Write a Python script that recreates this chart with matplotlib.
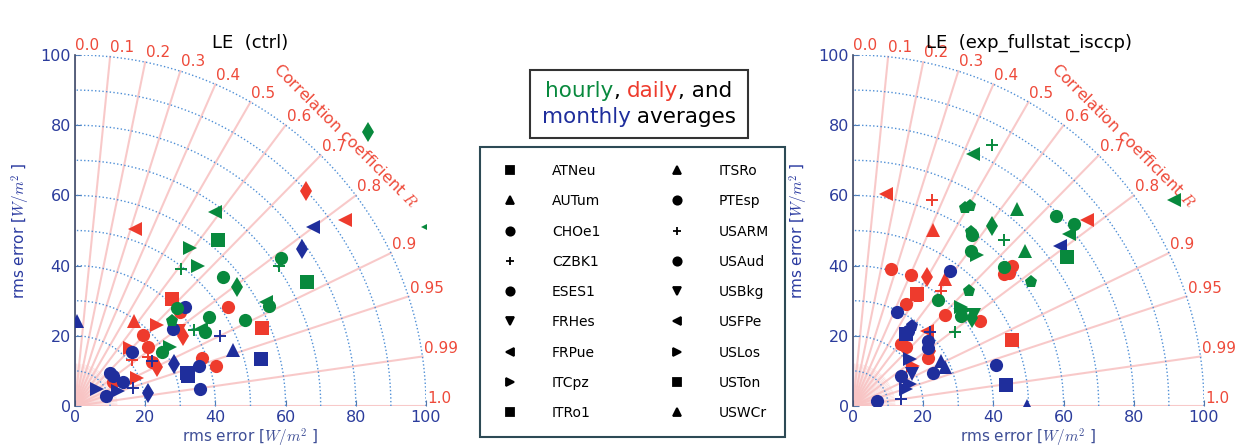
import numpy as np
import matplotlib.pyplot as plt
from matplotlib.lines import Line2D
from matplotlib.offsetbox import TextArea, HPacker, VPacker, AnchoredOffsetbox

plt.rcParams['mathtext.fontset'] = 'cm'

GREEN = '#08893d'
RED = '#ee3b2d'
BLUE = '#1f2e9c'
PINK = '#f8c4c4'
ARC = '#4f8fd6'
LABEL_RED = '#ee4a3a'
TICK_BLUE = '#2b3c9c'

# station legend
stations = ['ATNeu', 'AUTum', 'CHOe1', 'CZBK1', 'ESES1', 'FRHes', 'FRPue', 'ITCpz', 'ITRo1',
            'ITSRo', 'PTEsp', 'USARM', 'USAud', 'USBkg', 'USFPe', 'USLos', 'USTon', 'USWCr']
station_markers = ['s', '^', 'o', '+', 'o', 'v', '<', '>', 's',
                   '^', 'o', '+', 'o', 'v', '<', '>', 's', '^']

# Taylor diagram grid
corr_ticks = [0.0, 0.1, 0.2, 0.3, 0.4, 0.5, 0.6, 0.7, 0.8, 0.9, 0.95, 0.99, 1.0]
corr_labels = ['0.0', '0.1', '0.2', '0.3', '0.4', '0.5', '0.6', '0.7', '0.8', '0.9', '0.95', '0.99', '1.0']
std_rings = [10, 20, 30, 40, 50, 60, 70, 80, 90, 100]
axis_ticks = [0, 20, 40, 60, 80, 100]

# ---- LE (ctrl) ----
ctrl_hourly_x = [83.6, 100.6, 39.9, 40.6, 32.8, 30.2, 35.1, 58.6, 58.0, 66.2, 42.1, 46.1, 55.4, 54.3,
                 38.3, 48.4, 29.0, 27.5, 34.0, 36.0, 37.0, 24.7, 27.1]
ctrl_hourly_y = [78.1, 51.0, 55.2, 47.3, 45.0, 39.0, 40.0, 42.1, 40.0, 35.2, 36.7, 34.0, 28.6, 29.6,
                 25.4, 24.5, 27.8, 24.3, 21.7, 22.0, 21.0, 15.5, 16.9]
ctrl_hourly_m = ['d', '<', '<', 's', '>', '+', '>', 'o', '+', 's', 'o', 'd', 'o', '<',
                 'o', 'o', 'o', 'p', '+', '<', 'o', 'o', '>']

ctrl_daily_x = [65.8, 76.9, 17.1, 16.9, 23.3, 19.5, 27.5, 29.9, 43.7, 53.2, 36.1, 40.2, 30.8, 29.5,
                20.9, 21.8, 23.3, 17.6, 15.7, 10.9, 16.1, 20.9]
ctrl_daily_y = [61.2, 53.0, 50.5, 24.1, 23.1, 20.3, 30.5, 26.7, 28.3, 22.1, 13.8, 11.4, 20.0, 21.5,
                16.7, 12.4, 11.0, 7.9, 16.4, 6.9, 13.1, 14.0]
ctrl_daily_m = ['d', '<', '<', '^', '>', 'o', 's', 'o', 'o', 's', 'o', 'o', 'd', 'v',
                'o', 'o', 'd', '>', '>', 'o', '+', '+']

ctrl_monthly_x = [0.5, 67.9, 64.6, 45.1, 53.0, 41.3, 31.3, 27.8, 16.1, 28.2, 35.4, 32.3, 32.0, 35.6,
                  20.9, 10.0, 10.9, 13.8, 6.2, 8.8, 12.3, 16.6, 21.8]
ctrl_monthly_y = [24.3, 51.0, 44.8, 15.9, 13.3, 20.0, 28.3, 21.9, 15.5, 11.9, 11.4, 8.6, 9.5, 4.8,
                  3.8, 9.5, 8.6, 6.7, 4.8, 2.9, 4.3, 5.0, 12.9]
ctrl_monthly_m = ['^', '<', 'd', '^', 's', '+', 'o', 'o', 'o', 'd', 'o', 's', 's', 'o',
                  'd', 'o', 'o', 'o', '>', 'o', '>', '+', '+']

# ---- LE (exp_fullstat_isccp) ----
exp_hourly_x = [91.4, 34.3, 39.5, 46.7, 31.9, 33.3, 39.5, 33.6, 33.8, 43.1, 49.0, 33.6, 35.2, 57.9,
                62.9, 61.4, 61.0, 42.9, 50.8, 24.1, 33.0, 30.8, 31.9, 30.8, 33.8, 29.2, 34.5]
exp_hourly_y = [58.6, 71.9, 74.3, 56.2, 56.5, 57.1, 51.4, 49.5, 48.6, 47.3, 44.3, 44.3, 43.1, 54.0,
                51.9, 49.0, 42.4, 39.7, 35.2, 30.2, 32.7, 28.3, 27.3, 25.7, 25.0, 21.0, 26.0]
exp_hourly_m = ['<', '<', '+', '^', 'p', 'p', 'd', 'p', 'o', '+', '^', 'o', '>', 'o',
                'o', '<', 's', 'o', 'p', 'o', 'p', '>', '>', 'o', 'd', '+', 'v']

exp_daily_x = [9.5, 22.4, 22.9, 66.7, 10.8, 16.5, 21.0, 26.2, 43.8, 45.2, 42.9, 18.1, 18.6, 15.2,
               25.2, 26.2, 36.2, 45.2, 13.8, 15.2, 21.0, 21.4, 21.9, 17.1, 44.5]
exp_daily_y = [60.3, 58.8, 50.2, 53.0, 38.9, 37.3, 36.7, 36.2, 39.0, 40.0, 37.6, 31.9, 31.0, 29.0,
               32.9, 25.9, 24.3, 18.8, 17.6, 16.7, 21.4, 13.8, 15.7, 11.4, 38.0]
exp_daily_m = ['<', '+', '^', '<', 'o', 'o', 'd', '^', 'o', 'o', 'o', 's', 'p', 'o',
               '+', 'o', 'o', 's', 'o', 'o', '<', 'o', 'd', '>', 'o']

exp_monthly_x = [59.0, 27.6, 12.4, 16.7, 15.2, 15.7, 21.9, 21.4, 25.2, 26.2, 22.9, 40.7, 43.6, 49.5,
                 16.2, 13.8, 16.7, 15.2, 16.2, 6.7, 13.8, 21.5]
exp_monthly_y = [45.7, 38.4, 26.9, 22.9, 20.5, 21.5, 21.0, 18.6, 12.9, 11.0, 9.5, 11.7, 6.0, 0.0,
                 13.3, 8.6, 9.0, 4.8, 6.2, 1.4, 1.9, 16.5]
exp_monthly_m = ['<', 'o', 'o', 'p', 's', 'o', '+', 'o', '^', '^', 'o', 'o', 's', '^',
                 '>', 'o', 'v', '>', '>', 'o', '+', 'o']


def draw_points(ax, xs, ys, marks, color):
    xs = np.array(xs)
    ys = np.array(ys)
    marks = np.array(marks)
    for m in sorted(set(marks)):
        sel = marks == m
        if m == '+':
            ax.plot(xs[sel], ys[sel], ls='none', marker='+', ms=9, mew=1.4, color=color, zorder=4)
        else:
            size = 10.5 if m == 'd' else 9.5
            ax.plot(xs[sel], ys[sel], ls='none', marker=m, ms=size, mew=0, color=color, zorder=4)


def taylor_panel(ax, title, series):
    theta = np.linspace(0, np.pi / 2, 300)
    # faint fan near the origin
    for a in np.linspace(0, np.pi / 2, 46):
        ax.plot([0, 12 * np.cos(a)], [0, 12 * np.sin(a)], color=PINK, lw=0.5, alpha=0.6, zorder=1)
    for r in std_rings:
        ax.plot(r * np.cos(theta), r * np.sin(theta), ls=':', color=ARC, lw=1.0, zorder=2)
    for R, lab in zip(corr_ticks, corr_labels):
        a = np.arccos(R)
        ax.plot([0, 100 * np.cos(a)], [0, 100 * np.sin(a)], color=PINK, lw=1.5, alpha=0.9, zorder=1)
        ax.text(100.5 * np.cos(a), 100.5 * np.sin(a), lab, color=LABEL_RED, fontsize=11,
                ha='left', va='bottom', clip_on=False)
    ax.text(109 * np.cos(np.pi / 4), 109 * np.sin(np.pi / 4), 'Correlation coefficient $R$',
            color=LABEL_RED, fontsize=11.5, rotation=-45, ha='center', va='center',
            rotation_mode='anchor', clip_on=False)

    for xs, ys, ms, c in series:
        draw_points(ax, xs, ys, ms, c)

    ax.set_xlim(0, 100)
    ax.set_ylim(0, 100)
    ax.set_xticks(axis_ticks)
    ax.set_yticks(axis_ticks)
    for s in ['top', 'right', 'bottom']:
        ax.spines[s].set_visible(False)
    ax.spines['left'].set_color('#3b4a6b')
    ax.spines['left'].set_linewidth(1.2)
    ax.tick_params(direction='in', length=4, color='#5577aa', labelcolor=TICK_BLUE, labelsize=11.5, pad=3)
    ax.set_xlabel('rms error [$W/m^2$ ]', color='#3e4e96', fontsize=11, labelpad=1)
    ax.set_ylabel('rms error [$W/m^2$ ]', color='#2a3aa0', fontsize=11, labelpad=6)
    ax.set_title(title, fontsize=13, pad=5)


fig = plt.figure(figsize=(12.36, 4.48), dpi=100)
ax1 = fig.add_axes([75 / 1236, 42 / 448, 351 / 1236, 351 / 448])
ax2 = fig.add_axes([853 / 1236, 42 / 448, 351 / 1236, 351 / 448])

taylor_panel(ax1, 'LE  (ctrl)', [
    (ctrl_daily_x, ctrl_daily_y, ctrl_daily_m, RED),
    (ctrl_monthly_x, ctrl_monthly_y, ctrl_monthly_m, BLUE),
    (ctrl_hourly_x, ctrl_hourly_y, ctrl_hourly_m, GREEN),
])
taylor_panel(ax2, 'LE  (exp_fullstat_isccp)', [
    (exp_daily_x, exp_daily_y, exp_daily_m, RED),
    (exp_monthly_x, exp_monthly_y, exp_monthly_m, BLUE),
    (exp_hourly_x, exp_hourly_y, exp_hourly_m, GREEN),
])

# coloured averaging box
fs = 15.5
line1 = HPacker(children=[TextArea('hourly', textprops=dict(color=GREEN, size=fs)),
                          TextArea(', ', textprops=dict(color='k', size=fs)),
                          TextArea('daily', textprops=dict(color=RED, size=fs)),
                          TextArea(', and', textprops=dict(color='k', size=fs))],
                align='baseline', pad=0, sep=0)
line2 = HPacker(children=[TextArea('monthly', textprops=dict(color=BLUE, size=fs)),
                          TextArea(' averages', textprops=dict(color='k', size=fs))],
                align='baseline', pad=0, sep=0)
box = VPacker(children=[line1, line2], align='center', pad=0, sep=4)
anch = AnchoredOffsetbox(loc='center', child=box, pad=0.8, borderpad=0, frameon=True,
                         bbox_to_anchor=(639 / 1236, 1 - 104 / 448), bbox_transform=fig.transFigure)
anch.patch.set_edgecolor('#333333')
anch.patch.set_linewidth(1.5)
anch.patch.set_boxstyle('square', pad=0)
fig.add_artist(anch)

# station legend
handles = [Line2D([], [], ls='none', marker=m, color='k', ms=6, mew=1.3) for m in station_markers]
leg = fig.legend(handles, stations, ncol=2, loc='center', bbox_to_anchor=(632.5 / 1236, 1 - 292 / 448),
                 fontsize=10, frameon=True, fancybox=False, framealpha=1, edgecolor='#2d4a55',
                 borderpad=1.2, handlelength=2.0, handletextpad=2.0, columnspacing=4.5,
                 labelspacing=1.17)
leg.get_frame().set_linewidth(1.5)

fig.savefig('out.png', dpi=100)
